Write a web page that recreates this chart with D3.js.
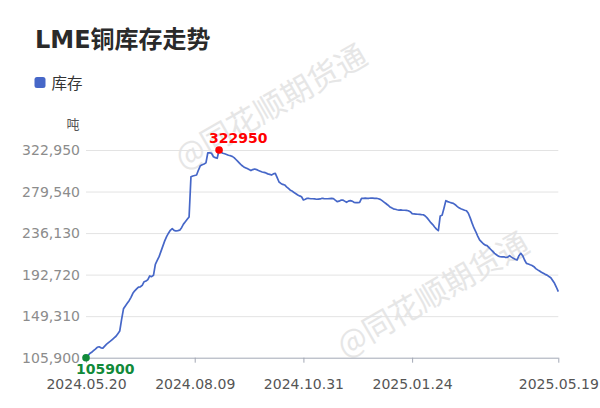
<!DOCTYPE html>
<html>
<head>
<meta charset="utf-8">
<script src="https://cdn.jsdelivr.net/npm/d3@7"></script>
<style>
  html, body { margin: 0; padding: 0; background: #fff; }
  svg { display: block; }
</style>
</head>
<body>
<svg id="chart" width="600" height="408"></svg>
<script>
// ---- data ----
const title = "LME铜库存走势";
const seriesName = "库存";
const unit = "吨";
const watermark = "@同花顺期货通";
const startDate = "2024-05-20";
const endDate = "2025-05-19";
const holidays = ["2024-05-27","2024-08-26","2024-12-25","2024-12-26","2025-01-01","2025-04-18","2025-04-21","2025-05-05"];
const xTickLabels = ["2024.05.20","2024.08.09","2024.10.31","2025.01.24","2025.05.19"];
const yTicks = [105900,149310,192720,236130,279540,322950];
const stock = [
  105900,107800,110300,111500,113200,114900,116800,117300,116200,115900,
  118000,120000,121600,123200,124900,126600,128300,131000,133800,146000,
  157000,160000,162700,165500,169000,173200,175800,177800,179700,180000,
  181500,185300,186000,187500,191300,190600,192000,203500,207500,211500,
  217000,222500,228000,232500,236000,239000,240800,239000,238300,238700,
  239200,241800,245500,248000,250500,253000,295000,295800,296300,296800,
  302000,306500,307500,308300,309500,320100,320000,319500,315900,315000,
  314300,322950,320500,319500,319000,318300,317500,317000,316300,315000,
  313000,311000,309000,307000,305500,304500,303500,302500,301500,302500,
  303100,302500,301500,300800,300000,299500,299000,298000,297500,296800,
  298000,298600,294000,289500,288000,287000,286400,284500,282800,281000,
  280000,278500,277300,276000,275000,274100,270700,271500,272500,272300,
  272000,272000,271800,271500,271700,271800,272500,272200,272000,272000,
  272200,272300,272100,270500,269000,269500,270500,270700,269500,268300,
  269500,270000,269500,268300,268000,268000,268300,272500,272500,272600,
  272500,272500,272700,272600,272500,272500,272000,271400,270000,268500,
  267000,265500,263700,262500,261500,261000,260500,260200,260300,260000,
  260000,259800,259500,258500,256500,256100,256000,255800,255600,255400,
  255300,254000,252000,249500,247000,245000,242500,240300,238600,254000,
  254700,262000,270000,269000,268300,267700,267200,265800,264000,262500,
  261500,260800,260000,259500,256800,252000,246500,241500,237500,233000,
  229000,227000,225000,223500,223000,221000,219000,217000,215000,213500,
  212000,211400,211200,211400,210600,211000,212500,211000,209800,208800,
  208000,212500,215000,212500,208000,204500,203800,203000,202300,201000,
  199000,197700,196500,195200,194100,193000,192200,190800,189500,186500,
  183600,179500,174900
];

(function () {
// ---- trading-day categories (weekdays minus LME holidays) ----
const fmt = d3.timeFormat("%Y.%m.%d");
const isoFmt = d3.timeFormat("%Y-%m-%d");
const parse = d3.timeParse("%Y-%m-%d");
const dates = d3.timeDay.range(parse(startDate), d3.timeDay.offset(parse(endDate), 1))
  .filter(d => d.getDay() !== 0 && d.getDay() !== 6 && !holidays.includes(isoFmt(d)))
  .map(fmt);
const data = dates.map((d, i) => ({ date: d, value: stock[i] })).filter(d => d.value != null);

// ---- layout ----
const svg = d3.select("#chart");
const mLeft = 86, mRight = 558.3, mTop = 150, mBottom = 357.7;
const font = "'DejaVu Sans', 'Noto Sans CJK SC', sans-serif";
const lineColor = "#4667c8";

const x = d3.scalePoint().domain(dates).range([mLeft, mRight]).padding(0);
const y = d3.scaleLinear().domain([d3.min(yTicks), d3.max(yTicks)]).range([mBottom, mTop]);

// watermarks
const wm = svg.append("g").attr("fill", "#e6e6e6").attr("font-family", "'Noto Sans CJK SC', sans-serif").attr("font-size", 31);
[[183, 170], [345, 358]].forEach(([wx, wy]) => {
  wm.append("text").attr("transform", `translate(${wx},${wy}) rotate(-30)`).text(watermark);
});

// title
svg.append("text").attr("x", 35).attr("y", 48).attr("font-family", font).attr("font-weight", "bold")
  .attr("font-size", 24).attr("fill", "#2a2a2a").text(title);

// legend
svg.append("rect").attr("x", 34.5).attr("y", 77).attr("width", 11).attr("height", 11).attr("rx", 2.5).attr("fill", lineColor);
svg.append("text").attr("x", 51.5).attr("y", 89).attr("font-family", font).attr("font-size", 15.5).attr("fill", "#333").text(seriesName);

// unit
svg.append("text").attr("x", 73).attr("y", 129).attr("text-anchor", "middle").attr("font-family", font)
  .attr("font-size", 13).attr("fill", "#555").text(unit);

// grid + y axis labels
const yAxis = d3.axisLeft(y).tickValues(yTicks).tickSize(-(mRight - mLeft)).tickPadding(6).tickFormat(d3.format(","));
const gy = svg.append("g").attr("transform", `translate(${mLeft},0)`).call(yAxis);
gy.select(".domain").remove();
gy.selectAll(".tick line").attr("stroke", "#e3e3e3").attr("stroke-width", 1);
gy.selectAll(".tick text").attr("font-family", font).attr("font-size", 14).attr("fill", "#8c8c8c");
gy.selectAll(".tick").filter(d => d === d3.min(yTicks)).select("line").remove();

// x axis
const xAxis = d3.axisBottom(x).tickValues(xTickLabels).tickSize(5).tickPadding(16);
const gx = svg.append("g").attr("transform", `translate(0,${mBottom})`).call(xAxis);
gx.select(".domain").attr("stroke", "#a3a8b5").attr("d", `M${mLeft},0.5H${mRight}`);
gx.selectAll(".tick line").attr("stroke", "#a3a8b5");
gx.selectAll(".tick text").attr("font-family", font).attr("font-size", 14).attr("fill", "#555");

// line
const line = d3.line().x(d => x(d.date)).y(d => y(d.value));
svg.append("path").datum(data).attr("d", line).attr("fill", "none").attr("stroke", lineColor)
  .attr("stroke-width", 1.7).attr("stroke-linejoin", "round");

// max / min markers
const maxP = data.reduce((a, b) => (b.value > a.value ? b : a));
const minP = data.reduce((a, b) => (b.value < a.value ? b : a));
[[maxP, "#ff0000", -7], [minP, "#118a3a", 16]].forEach(([p, c, dy]) => {
  svg.append("circle").attr("cx", x(p.date)).attr("cy", y(p.value)).attr("r", 3.8).attr("fill", c);
  svg.append("text").attr("x", x(p.date) - 10).attr("y", y(p.value) + dy).attr("font-family", font)
    .attr("font-weight", "bold").attr("font-size", 14).attr("fill", c).text(p.value);
});
})();
</script>
</body>
</html>
